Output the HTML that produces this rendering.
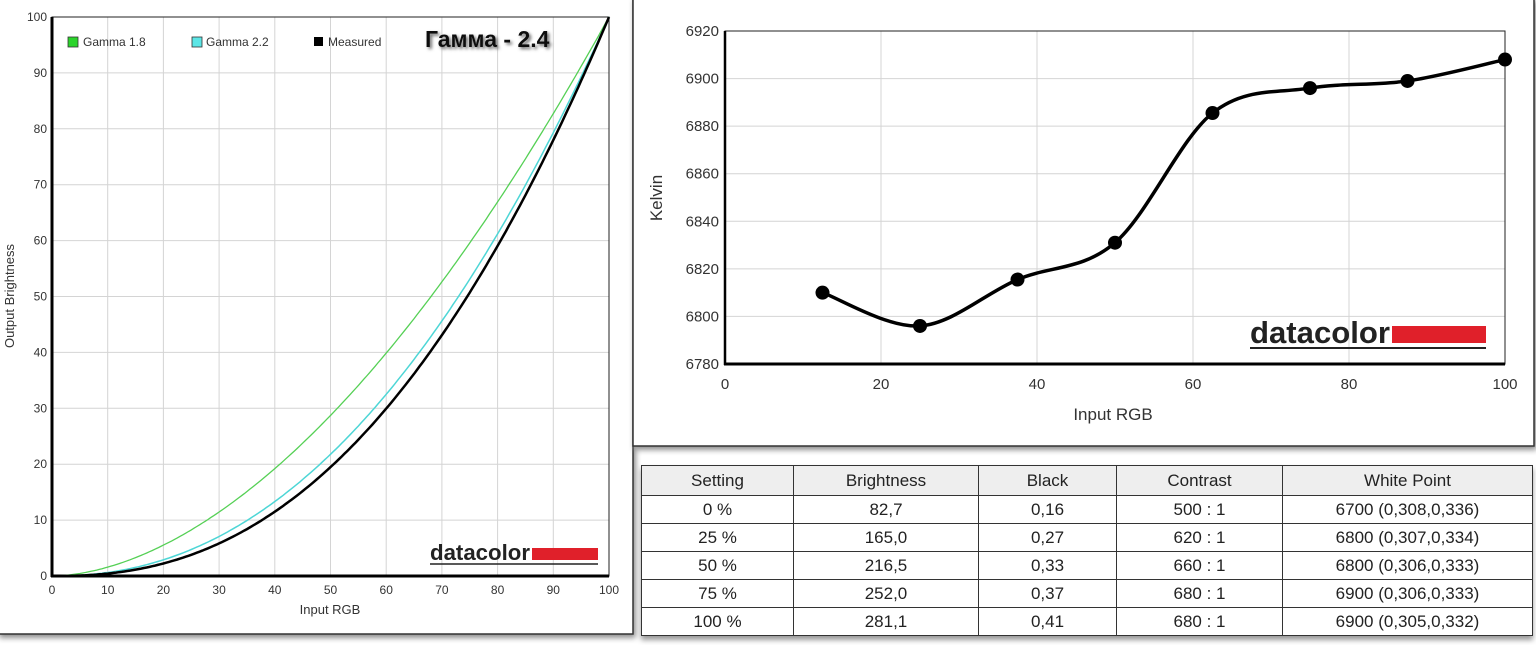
<!DOCTYPE html>
<html><head><meta charset="utf-8"><style>
body{margin:0;width:1536px;height:645px;background:#fff;overflow:hidden;font-family:"Liberation Sans",Arial,sans-serif}
svg{position:absolute;left:0;top:0}
table{position:absolute;left:641px;top:465px;width:892px;height:170px;border-collapse:collapse;font-size:17px;color:#222;box-shadow:0 4px 5px #999}
td{border:1.5px solid #333;text-align:center;padding:0;height:27px}
tr:first-child td{background:#eee;height:29px}
</style></head><body>
<svg width="1536" height="645" font-family="Liberation Sans, Arial, sans-serif">
<defs><filter id="sh"><feDropShadow dx="2" dy="2" stdDeviation="1.5" flood-color="#666"/></filter></defs>
<rect x="-2" y="-2" width="635" height="636" fill="#fff" stroke="#333" stroke-width="1.5" style="filter:drop-shadow(2px 3px 3px #888)"/>
<g id="lg" stroke="#d4d4d4" stroke-width="1"></g>
<rect x="52" y="17" width="557" height="559" fill="none" stroke="#222" stroke-width="1"/>
<line x1="52" y1="17" x2="52" y2="577" stroke="#000" stroke-width="3"/>
<line x1="51" y1="576" x2="609" y2="576" stroke="#000" stroke-width="3"/>
<g id="lt" font-size="12" fill="#333"></g>
<text x="330" y="614" font-size="13" fill="#333" text-anchor="middle">Input RGB</text>
<text transform="translate(14,296) rotate(-90)" font-size="13" fill="#333" text-anchor="middle">Output Brightness</text>
<path id="g18" fill="none" stroke="#55d055" stroke-width="1.3"/>
<path id="g22" fill="none" stroke="#4dd6d6" stroke-width="1.5"/>
<path id="gm" fill="none" stroke="#000" stroke-width="2.5"/>
<rect x="68" y="37" width="10" height="10" fill="#2bd42b" stroke="#333" stroke-width=".8"/>
<text x="83" y="46" font-size="12" fill="#333">Gamma 1.8</text>
<rect x="192" y="37" width="10" height="10" fill="#5ce6e6" stroke="#333" stroke-width=".8"/>
<text x="206" y="46" font-size="12" fill="#333">Gamma 2.2</text>
<rect x="314" y="37" width="9" height="9" fill="#000"/>
<text x="328" y="46" font-size="12" fill="#333">Measured</text>
<text x="425" y="47" font-size="23" font-weight="bold" fill="#111" filter="url(#sh)">Гамма - 2.4</text>
<text x="430" y="560" font-size="22" font-weight="bold" fill="#222" textLength="100" lengthAdjust="spacingAndGlyphs">datacolor</text>
<rect x="532" y="548" width="66" height="12" fill="#e0202a"/>
<line x1="430" y1="564" x2="598" y2="564" stroke="#222" stroke-width="1.5"/>
<rect x="633" y="-2" width="901" height="448" fill="#fff" stroke="#333" stroke-width="1.5" style="filter:drop-shadow(2px 3px 3px #888)"/>
<g id="rg" stroke="#d4d4d4" stroke-width="1"></g>
<rect x="725" y="31" width="780" height="333" fill="none" stroke="#222" stroke-width="1"/>
<line x1="725" y1="31" x2="725" y2="365" stroke="#000" stroke-width="2.5"/>
<line x1="724" y1="364" x2="1505" y2="364" stroke="#000" stroke-width="3"/>
<g id="rt" font-size="15" fill="#333"></g>
<text x="1113" y="420" font-size="17" fill="#333" text-anchor="middle">Input RGB</text>
<text transform="translate(662,198) rotate(-90)" font-size="17" fill="#333" text-anchor="middle">Kelvin</text>
<path id="kp" fill="none" stroke="#000" stroke-width="3.5"/>
<g id="kd" fill="#000"></g>
<text x="1250" y="343" font-size="31" font-weight="bold" fill="#222" textLength="140" lengthAdjust="spacingAndGlyphs">datacolor</text>
<rect x="1392" y="326" width="94" height="17" fill="#e0202a"/>
<line x1="1250" y1="348" x2="1486" y2="348" stroke="#222" stroke-width="2"/>
</svg>
<table>
<tr><td style="width:151px">Setting</td><td style="width:184px">Brightness</td><td style="width:137px">Black</td><td style="width:165px">Contrast</td><td>White Point</td></tr>
<tr><td>0 %</td><td>82,7</td><td>0,16</td><td>500 : 1</td><td>6700 (0,308,0,336)</td></tr>
<tr><td>25 %</td><td>165,0</td><td>0,27</td><td>620 : 1</td><td>6800 (0,307,0,334)</td></tr>
<tr><td>50 %</td><td>216,5</td><td>0,33</td><td>660 : 1</td><td>6800 (0,306,0,333)</td></tr>
<tr><td>75 %</td><td>252,0</td><td>0,37</td><td>680 : 1</td><td>6900 (0,306,0,333)</td></tr>
<tr><td>100 %</td><td>281,1</td><td>0,41</td><td>680 : 1</td><td>6900 (0,305,0,332)</td></tr>
</table>
<script>
const NS="http://www.w3.org/2000/svg";
function el(p,t,a,txt){const e=document.createElementNS(NS,t);for(const k in a)e.setAttribute(k,a[k]);if(txt!==undefined)e.textContent=txt;document.getElementById(p).appendChild(e);}
const LX=v=>52+v*5.57, LY=v=>576-v*5.59;
for(let i=0;i<=10;i++){
 el("lg","line",{x1:LX(i*10),y1:17,x2:LX(i*10),y2:576});
 el("lg","line",{x1:52,y1:LY(i*10),x2:609,y2:LY(i*10)});
 el("lt","text",{x:LX(i*10),y:594,"text-anchor":"middle"},i*10);
 el("lt","text",{x:47,y:LY(i*10)+4,"text-anchor":"end"},i*10);
}
function curve(id,g){let d="";for(let i=0;i<=200;i++){const x=i/2;const y=100*Math.pow(x/100,g);d+=(i?"L":"M")+LX(x).toFixed(1)+","+LY(y).toFixed(1);}document.getElementById(id).setAttribute("d",d);}
curve("g18",1.8);curve("g22",2.2);curve("gm",2.36);
const RX=v=>725+v*7.8, RY=v=>31+(6920-v)*333/140;
for(let i=0;i<=5;i++){
 el("rg","line",{x1:RX(i*20),y1:31,x2:RX(i*20),y2:364});
 el("rt","text",{x:RX(i*20),y:389,"text-anchor":"middle"},i*20);
}
for(let i=0;i<=7;i++){const v=6780+i*20;
 el("rg","line",{x1:725,y1:RY(v),x2:1505,y2:RY(v)});
 el("rt","text",{x:719,y:RY(v)+5,"text-anchor":"end"},v);
}
const P=[[12.5,6810],[25,6796],[37.5,6815.5],[50,6831],[62.5,6885.5],[75,6896],[87.5,6899],[100,6908]].map(p=>[RX(p[0]),RY(p[1])]);
let d="M"+P[0];
for(let i=0;i<P.length-1;i++){const p0=P[Math.max(0,i-1)],p1=P[i],p2=P[i+1],p3=P[Math.min(P.length-1,i+2)];
 const c1=[p1[0]+(p2[0]-p0[0])/6,p1[1]+(p2[1]-p0[1])/6],c2=[p2[0]-(p3[0]-p1[0])/6,p2[1]-(p3[1]-p1[1])/6];
 d+="C"+c1+" "+c2+" "+p2;}
document.getElementById("kp").setAttribute("d",d);
P.forEach(p=>el("kd","circle",{cx:p[0],cy:p[1],r:7}));
</script>
</body></html>
